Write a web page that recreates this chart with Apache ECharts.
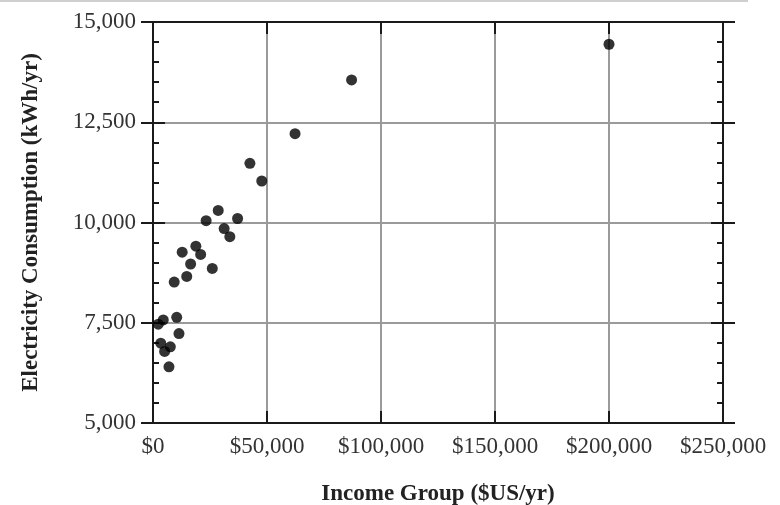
<!DOCTYPE html>
<html>
<head>
<meta charset="utf-8">
<script src="https://cdn.jsdelivr.net/npm/echarts@6/dist/echarts.min.js"></script>
<style>
  html, body { margin: 0; padding: 0; background: #fff; }
  #chart { width: 780px; height: 505px; }
</style>
</head>
<body>
<div id="chart"></div>
<script>
// Household income (US$/yr) per income group
const income = [28600, 23300, 37100, 31200, 33700, 12800, 18800, 20900, 16500, 26000,
                14800, 9300, 2300, 4500, 10400, 11400, 3400, 7600, 5100, 7000,
                42500, 47700, 62300, 87100, 200000];
// Electricity consumption (kWh/yr) for each income group
const consumption = [10300, 10045, 10100, 9850, 9645, 9260, 9410, 9205, 8965, 8855,
                     8655, 8515, 7465, 7570, 7635, 7230, 6990, 6900, 6785, 6400,
                     11475, 11035, 12215, 13555, 14445];
// Axis ranges and tick steps
const xRange = [0, 250000, 50000];
const yRange = [5000, 15000, 2500];
const xTitle = 'Income Group ($US/yr)';
const yTitle = 'Electricity Consumption (kWh/yr)';

const points = income.map((v, i) => [v, consumption[i]]);
const fmt = v => v.toString().replace(/\B(?=(\d{3})+(?!\d))/g, ',');

const serif = '"Liberation Serif", "DejaVu Serif", serif';
const black = '#1a1a1a';
const axisLine = { show: true, onZero: false, lineStyle: { color: black, width: 2 } };
const gridLine = { show: true, lineStyle: { color: '#9a9a9a', width: 2 } };

function xAx(pos, extra) {
  return Object.assign({
    type: 'value', position: pos, min: xRange[0], max: xRange[1], interval: xRange[2],
    axisLine: axisLine,
    axisTick: { show: true, inside: true, length: 12, lineStyle: { color: black, width: 2 } },
    axisLabel: { show: false },
    splitLine: { show: false }
  }, extra);
}
function yAx(pos, inside, extra) {
  return Object.assign({
    type: 'value', position: pos, min: yRange[0], max: yRange[1], interval: yRange[2],
    axisLine: axisLine,
    axisTick: { show: true, inside: inside, length: 12, lineStyle: { color: black, width: 2 } },
    minorTick: inside ? { show: true, splitNumber: 5, length: 6, lineStyle: { color: black, width: 2 } } : { show: false },
    axisLabel: { show: false },
    splitLine: { show: false }
  }, extra);
}

const chart = echarts.init(document.getElementById('chart'), null, { renderer: 'canvas' });
chart.setOption({
  animation: false,
  backgroundColor: '#fff',
  grid: { left: 153, right: 57, top: 22, bottom: 82, containLabel: false, outerBoundsMode: 'none' },
  xAxis: [
    xAx('bottom', {
      name: xTitle, nameLocation: 'middle', nameGap: 60,
      nameTextStyle: { fontFamily: serif, fontSize: 23, fontWeight: 'bold', color: '#222' },
      axisLabel: { show: true, margin: 12, fontFamily: serif, fontSize: 23, color: '#333',
                   formatter: v => '$' + fmt(v) },
      splitLine: gridLine
    }),
    xAx('top', {})
  ],
  yAxis: [
    yAx('left', false, {
      name: yTitle, nameLocation: 'middle', nameGap: 110,
      nameTextStyle: { fontFamily: serif, fontSize: 23, fontWeight: 'bold', color: '#222' },
      axisLabel: { show: true, margin: 17, fontFamily: serif, fontSize: 23, color: '#333',
                   formatter: v => fmt(v) },
      splitLine: gridLine
    }),
    yAx('left', true, {}),
    yAx('right', false, {}),
    yAx('right', true, {})
  ],
  graphic: [{
    type: 'line', shape: { x1: 0, y1: 1, x2: 748, y2: 1 },
    style: { stroke: '#cfcfcf', lineWidth: 2 }, silent: true
  }],
  series: [{
    type: 'scatter', xAxisIndex: 0, yAxisIndex: 0,
    data: points, symbol: 'circle', symbolSize: 11,
    itemStyle: { color: '#000' }, z: 5
  }]
});
</script>
</body>
</html>
